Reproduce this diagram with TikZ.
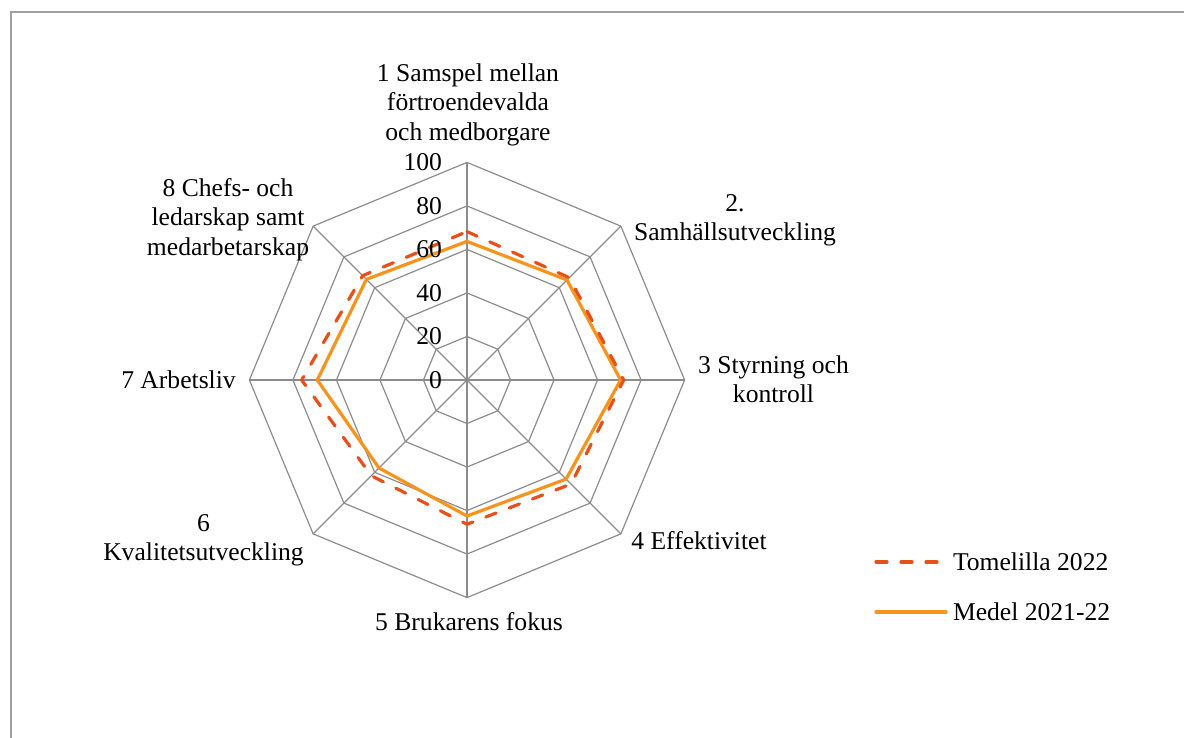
\documentclass[tikz,border=0pt]{standalone}
\usepackage{fontspec}
\setmainfont{Liberation Serif}
\definecolor{ca0a0a0}{RGB}{160,160,160}
\definecolor{c8c8c8c}{RGB}{140,140,140}
\definecolor{ce8501a}{RGB}{232,80,26}
\definecolor{cf7941d}{RGB}{247,148,29}
\tikzset{
  gridline/.style={draw=c8c8c8c,line width=0.6pt,line join=miter},
  tomelilla/.style={draw=ce8501a,line width=1.6pt,line cap=round,
    dash pattern=on 5.5pt off 7pt},
  medel/.style={draw=cf7941d,line width=1.6pt,line join=miter},
  catlabel/.style={align=center}
}

\begin{document}
\begin{tikzpicture}[y=0.5pt, x=0.5pt, yscale=-1, inner sep=0pt, outer sep=0pt,
  font=\fontsize{12.8}{14.7}\selectfont]
\useasboundingbox (0,0) rectangle (1184,738);
  \path[draw=ca0a0a0,line width=0.75pt] (11,738) -- (11,12) -- (1184,12);
\begin{scope}[shift={(467,380)},scale=2.176]
  % rings
  \path[gridline] (-90:20) -- (-45:20) -- (0:20) -- (45:20) -- (90:20) --
    (135:20) -- (180:20) -- (225:20) -- cycle;
  \path[gridline] (-90:40) -- (-45:40) -- (0:40) -- (45:40) -- (90:40) --
    (135:40) -- (180:40) -- (225:40) -- cycle;
  \path[gridline] (-90:60) -- (-45:60) -- (0:60) -- (45:60) -- (90:60) --
    (135:60) -- (180:60) -- (225:60) -- cycle;
  \path[gridline] (-90:80) -- (-45:80) -- (0:80) -- (45:80) -- (90:80) --
    (135:80) -- (180:80) -- (225:80) -- cycle;
  \path[gridline] (-90:100) -- (-45:100) -- (0:100) -- (45:100) -- (90:100) --
    (135:100) -- (180:100) -- (225:100) -- cycle;
  % spokes
  \path[gridline] (0,0) -- (-90:100);
  \path[gridline] (0,0) -- (-45:100);
  \path[gridline] (0,0) -- (0:100);
  \path[gridline] (0,0) -- (45:100);
  \path[gridline] (0,0) -- (90:100);
  \path[gridline] (0,0) -- (135:100);
  \path[gridline] (0,0) -- (180:100);
  \path[gridline] (0,0) -- (225:100);
  % series
  \path[medel] (-90:63.7) -- (-45:65) -- (0:70.6) -- (45:64.4) -- (90:62.5) --
    (135:57.2) -- (180:68.8) -- (225:65.4) -- cycle;
  \path[tomelilla] (-90:68.2) -- (-45:66.5) -- (0:72) -- (45:67.6) --
    (90:66.3) -- (135:62.2) -- (180:76) -- (225:67.8) -- cycle;
\end{scope}
  % axis values
  \node[anchor=east] (tick0) at (442,380) {0};
  \node[anchor=east] (tick20) at (442,336.5) {20};
  \node[anchor=east] (tick40) at (442,293) {40};
  \node[anchor=east] (tick60) at (442,249.4) {60};
  \node[anchor=east] (tick80) at (442,205.9) {80};
  \node[anchor=east] (tick100) at (442,162.4) {100};
  % categories
  \node[catlabel] (cat1) at (468,104.5)
    {1 Samspel mellan\\förtroendevalda\\och medborgare};
  \node[catlabel] (cat2) at (735,220.5) {2.\\Samhällsutveckling};
  \node[catlabel] (cat3) at (773.5,379) {3 Styrning och\\kontroll};
  \node[catlabel] (cat4) at (699,541) {4 Effektivitet};
  \node[catlabel] (cat5) at (469,622) {5 Brukarens fokus};
  \node[catlabel] (cat6) at (203.5,540.5) {6\\Kvalitetsutveckling};
  \node[catlabel] (cat7) at (178.5,380) {7 Arbetsliv};
  \node[catlabel] (cat8) at (228,219.5)
    {8 Chefs- och\\ledarskap samt\\medarbetarskap};
  % legend
  \coordinate (legA1) at (876,562);
  \coordinate (legA2) at (946,562);
  \coordinate (legB1) at (876,612);
  \coordinate (legB2) at (946,612);
  \path[tomelilla] (legA1) -- (legA2);
  \path[medel,line cap=round] (legB1) -- (legB2);
  \node[anchor=west] (legtextA) at (953,562) {Tomelilla 2022};
  \node[anchor=west] (legtextB) at (953,612) {Medel 2021-22};
\end{tikzpicture}
\end{document}
